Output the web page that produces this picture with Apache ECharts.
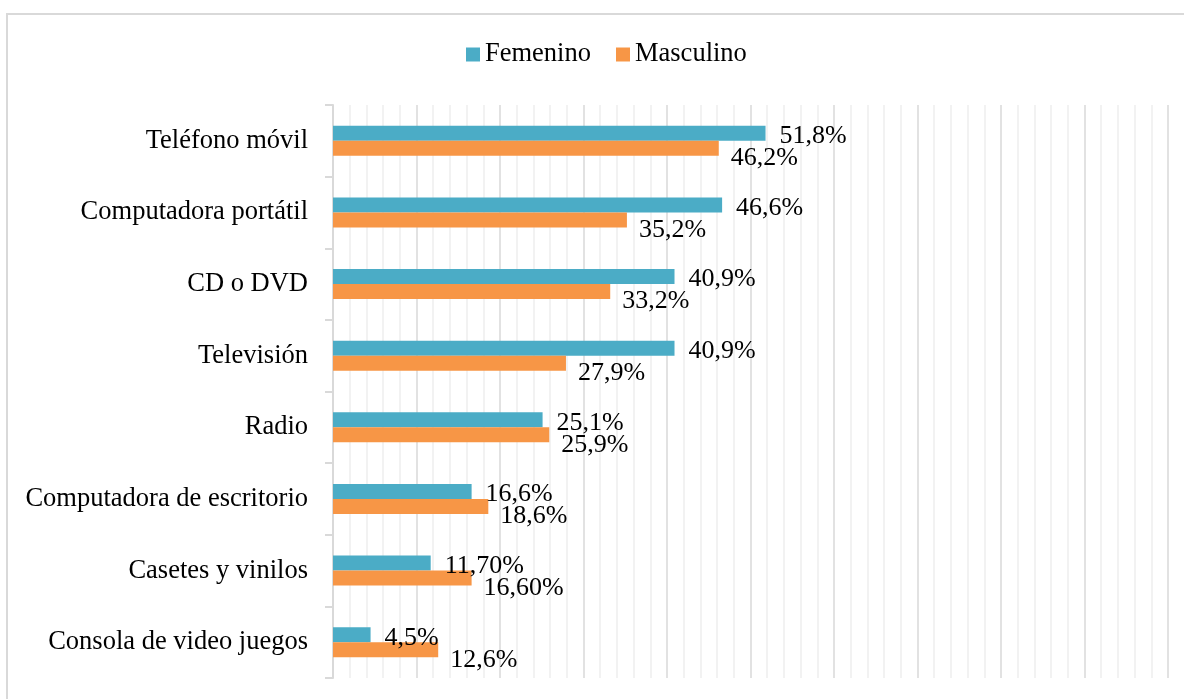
<!DOCTYPE html>
<html>
<head>
<meta charset="utf-8">
<script src="https://cdn.jsdelivr.net/npm/echarts@6/dist/echarts.min.js"></script>
<style>
  html, body { margin: 0; padding: 0; background: #fff; }
  #chart { width: 1184px; height: 699px; }
</style>
</head>
<body>
<div id="chart"></div>
<script>
// data, top category first
const categories = [
  'Teléfono móvil',
  'Computadora portátil',
  'CD o DVD',
  'Televisión',
  'Radio',
  'Computadora de escritorio',
  'Casetes y vinilos',
  'Consola de video juegos'
];
const femenino = [51.8, 46.6, 40.9, 40.9, 25.1, 16.6, 11.7, 4.5];
const masculino = [46.2, 35.2, 33.2, 27.9, 25.9, 18.6, 16.6, 12.6];
const femeninoLabels = ['51,8%', '46,6%', '40,9%', '40,9%', '25,1%', '16,6%', '11,70%', '4,5%'];
const masculinoLabels = ['46,2%', '35,2%', '33,2%', '27,9%', '25,9%', '18,6%', '16,60%', '12,6%'];

const font = "'Liberation Serif', 'Times New Roman', serif";

const chart = echarts.init(document.getElementById('chart'));

chart.setOption({
  animation: false,
  backgroundColor: '#fff',
  graphic: [{
    type: 'rect',
    shape: { x: 7, y: 14, width: 1200, height: 720 },
    style: { fill: 'none', stroke: '#d9d9d9', lineWidth: 2 },
    silent: true
  }],
  legend: {
    top: 36,
    left: 461,
    itemWidth: 14,
    itemHeight: 14,
    itemGap: 25,
    icon: 'rect',
    textStyle: { fontFamily: font, fontSize: 26.5, color: '#000' },
    data: ['Femenino', 'Masculino']
  },
  grid: { left: 333, right: 16, top: 105, bottom: 21 },
  xAxis: {
    type: 'value',
    min: 0,
    max: 100,
    interval: 10,
    axisLine: { show: false },
    axisTick: { show: false },
    axisLabel: { show: false },
    splitLine: { show: true, lineStyle: { color: '#d9d9d9', width: 1.5 } },
    minorTick: { show: false, splitNumber: 5 },
    minorSplitLine: { show: true, lineStyle: { color: '#eeeeee', width: 1.5 } }
  },
  yAxis: {
    type: 'category',
    inverse: true,
    data: categories,
    axisLine: { show: true, lineStyle: { color: '#d9d9d9', width: 2 } },
    axisTick: { show: true, length: 8, lineStyle: { color: '#d9d9d9', width: 2 } },
    axisLabel: { fontFamily: font, fontSize: 26.5, color: '#000', margin: 25 }
  },
  series: [
    {
      name: 'Femenino',
      type: 'bar',
      data: femenino,
      barWidth: 15,
      barGap: '0%',
      itemStyle: { color: '#4BACC6' },
      label: {
        show: true,
        position: 'right',
        distance: 14,
        offset: [0, 3],
        fontFamily: font,
        fontSize: 26,
        color: '#000',
        formatter: (p) => femeninoLabels[p.dataIndex]
      }
    },
    {
      name: 'Masculino',
      type: 'bar',
      data: masculino,
      barWidth: 15,
      itemStyle: { color: '#F79646' },
      label: {
        show: true,
        position: 'right',
        distance: 12,
        offset: [0, 10],
        fontFamily: font,
        fontSize: 26,
        color: '#000',
        formatter: (p) => masculinoLabels[p.dataIndex]
      }
    }
  ]
});
</script>
</body>
</html>
